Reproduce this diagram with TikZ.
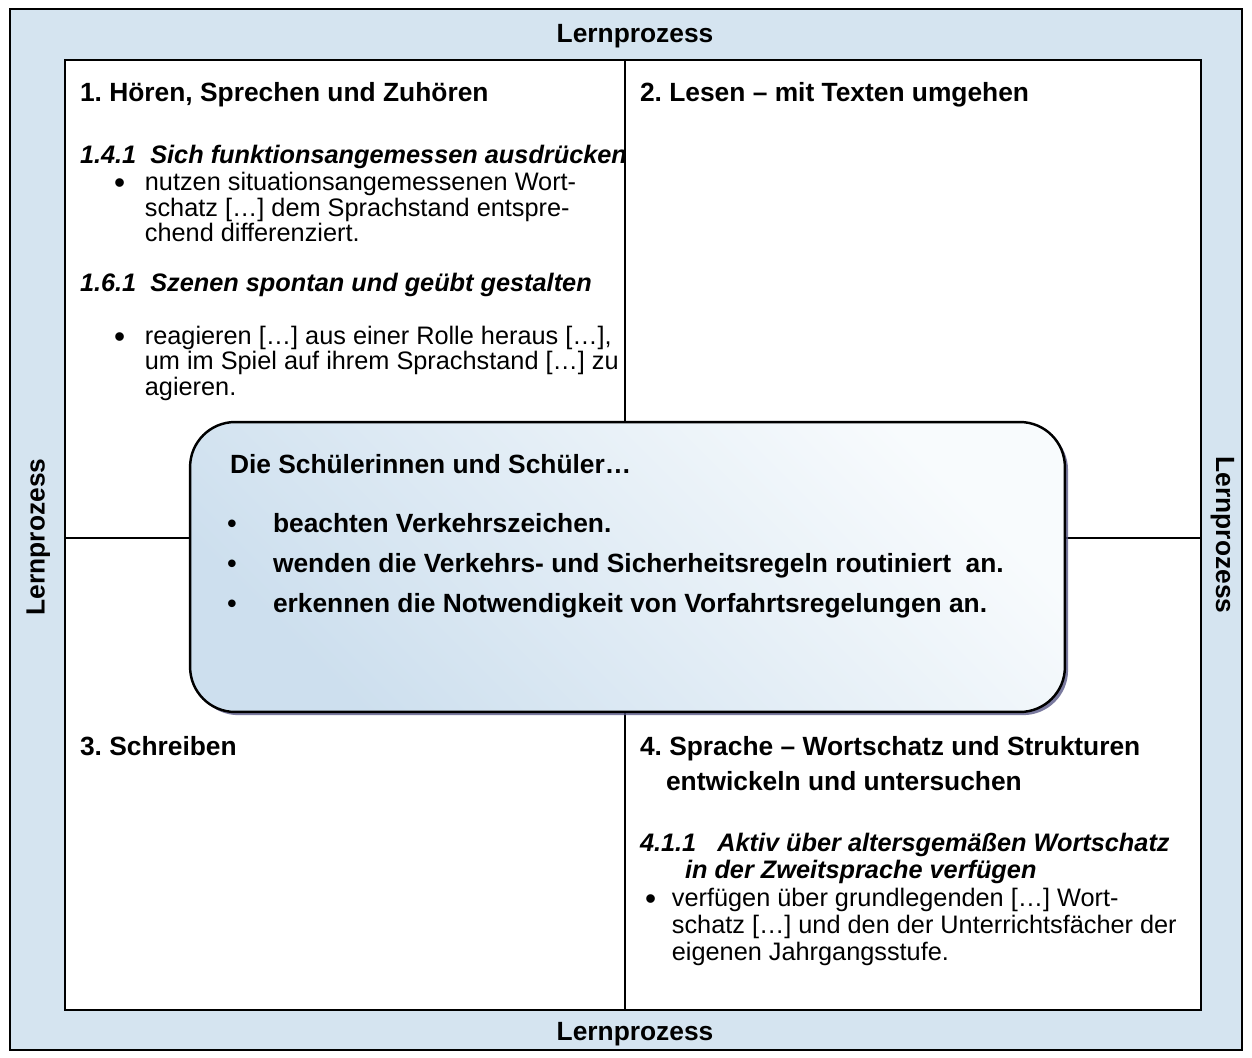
\documentclass[tikz,border=0pt]{standalone}
\usepackage{fontspec}
\setmainfont{Liberation Sans}
\usetikzlibrary{shadows,positioning}
\definecolor{rahmenblau}{HTML}{D5E4F0}
\definecolor{kastenblau}{HTML}{CDDFEE}
\definecolor{kastenhell}{HTML}{F8FBFD}
\frenchspacing
% Aufzaehlungspunkt mit Einzug
\newcommand{\spiegelpunkt}[1]{\makebox[#1][l]{\fontsize{18}{14.5}\selectfont\raisebox{-0.1em}{•}}}
\begin{document}
\begin{tikzpicture}[x=0.02cm, y=-0.02cm]
	\tikzstyle{every node} = [inner sep = 0, outer sep = 0]
	\tikzstyle{kopf} = [anchor = west, text height = 0.72em, text depth = 0.22em, yshift = -2.5pt, font = \fontsize{15}{17}\selectfont\bfseries]
	\tikzstyle{unterkopf} = [anchor = west, text height = 0.72em, text depth = 0.22em, yshift = -2.5pt, font = \fontsize{14.4}{15.2}\selectfont\bfseries\itshape]
	\tikzstyle{fliess} = [anchor = west, align = left, font = \fontsize{14.4}{14.5}\selectfont]
	\tikzstyle{ziel} = [anchor = west, text height = 0.72em, text depth = 0.22em, yshift = -2.2pt, font = \fontsize{15}{17}\selectfont\bfseries]
\useasboundingbox (0,0) rectangle (1252,1058);
% Rahmen
\draw[line width = 1.1pt, fill = rahmenblau] (10,9) rectangle (1242,1050);
\draw[line width = 0.9pt, fill = white] (65,60) rectangle (1201,1010);
\coordinate (o) at (625,60);
\coordinate (u) at (625,1010);
\coordinate (l) at (65,538);
\coordinate (r) at (1201,538);
	\path[draw, line width = 0.8pt] (o) -- (u);
	\path[draw, line width = 0.8pt] (l) -- (r);
% Lernprozess ringsum
\node[kopf, anchor = center] (10) at (635,34) {Lernprozess};
\node[kopf, anchor = center] (11) at (635,1032) {Lernprozess};
\node[kopf, anchor = center, yshift = 2.5pt, xshift = 1.3pt, rotate = 90] (12) at (38,537) {Lernprozess};
\node[kopf, anchor = center, yshift = 2.5pt, xshift = -2.5pt, rotate = -90] (13) at (1225,535) {Lernprozess};
% Quadrant 1
\node[kopf] (1) at (80,93) {1. Hören, Sprechen und Zuhören};
\node[unterkopf] (1a) at (80,155) {1.4.1\ \ Sich funktionsangemessen ausdrücken};
\node[fliess] (1c) at (114,207) {\spiegelpunkt{17.6pt}nutzen situationsangemessenen Wort-\\\hspace*{17.6pt}schatz […] dem Sprachstand entspre-\\\hspace*{17.6pt}chend differenziert.};
\node[unterkopf] (1d) at (80,283) {1.6.1\ \ Szenen spontan und geübt gestalten};
\node[fliess] (1f) at (114,363) {\spiegelpunkt{17.6pt}reagieren […] aus einer Rolle heraus […],\\\hspace*{17.6pt}um im Spiel auf ihrem Sprachstand […] zu\\\hspace*{17.6pt}agieren.};
% Quadrant 2
\node[kopf] (2) at (640,93) {2. Lesen – mit Texten umgehen};
% Quadrant 3
\node[kopf] (3) at (80,747) {3. Schreiben};
% Quadrant 4
\node[kopf] (4) at (640,747) {4. Sprache – Wortschatz und Strukturen};
\node[kopf] (4a) at (666,782) {entwickeln und untersuchen};
\node[unterkopf] (4b) at (640,843) {4.1.1\ \ \ Aktiv über altersgemäßen Wortschatz};
\node[unterkopf] (4c) at (685,870) {in der Zweitsprache verfügen};
\node[fliess, font = \fontsize{14.4}{15.3}\selectfont] (4e) at (645,927) {\spiegelpunkt{15.3pt}verfügen über grundlegenden […] Wort-\\\hspace*{15.3pt}schatz […] und den der Unterrichtsfächer der\\\hspace*{15.3pt}eigenen Jahrgangsstufe.};
% Kasten in der Mitte
\node[draw, line width = 1.4pt, rounded corners = 0.9cm, minimum width = 17.5cm, minimum height = 5.8cm,
	top color = kastenhell, bottom color = kastenblau, shading angle = -45,
	drop shadow = {shadow xshift = 1.8pt, shadow yshift = -1.8pt, fill = black!40!blue!30!gray, opacity = 0.8}] (5) at (627.5,567) {};
\node[ziel] (6) at (230,465) {Die Schülerinnen und Schüler…};
\node[ziel, anchor = center] (7) at (232,524) {•};
\node[ziel, anchor = center] (8) at (232,564) {•};
\node[ziel, anchor = center] (9) at (232,604) {•};
\node[ziel] (7a) at (273,524) {beachten Verkehrszeichen.};
\node[ziel] (8a) at (273,564) {wenden die Verkehrs- und Sicherheitsregeln routiniert\ \ an.};
\node[ziel] (9a) at (273,604) {erkennen die Notwendigkeit von Vorfahrtsregelungen an.};
\end{tikzpicture}
\end{document}
